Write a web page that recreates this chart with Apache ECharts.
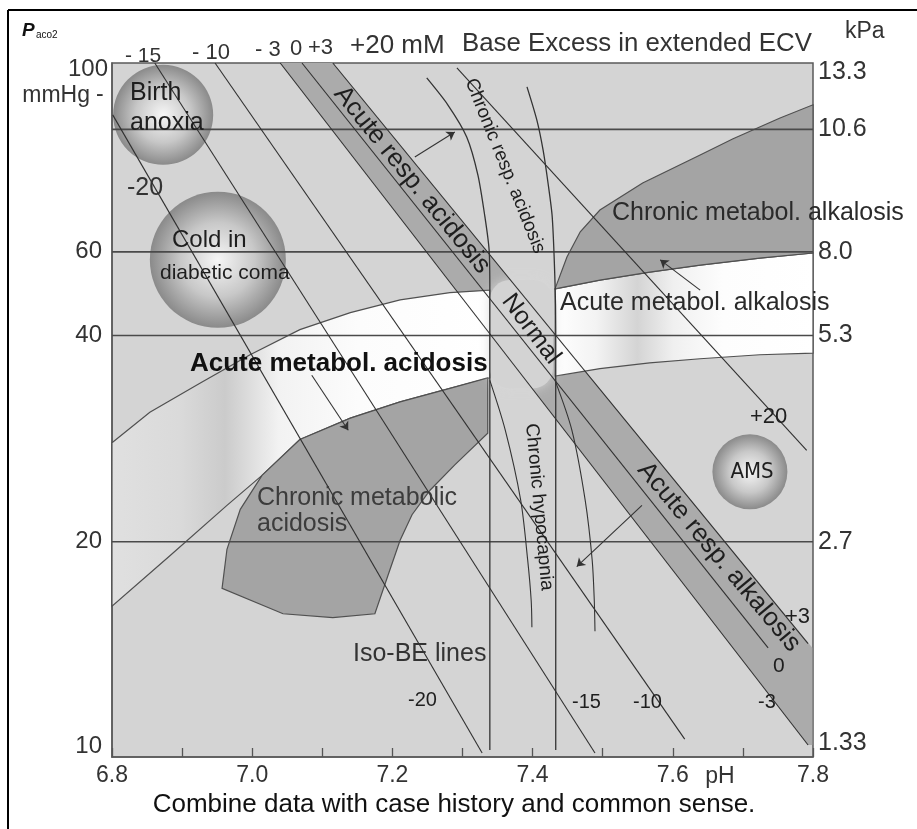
<!DOCTYPE html>
<html><head><meta charset="utf-8">
<script src="https://cdn.jsdelivr.net/npm/echarts@6/dist/echarts.min.js"></script>
<style>html,body{margin:0;padding:0;background:#fff}#c{width:917px;height:829px}</style>
</head><body><div id="c"></div>
<script>
// ---------- data (pH, PaCO2 mmHg) ----------
const phTickLabels = ['6.8', '7.0', '7.2', '7.4', '7.6', '7.8'];
const pco2GridValues = [80, 53, 40, 20];
const mmHgLabelValues = [100, 53, 40, 20, 10];
const mmHgLabels = ['100', '60', '40', '20', '10'];
const kPaLabelValues = [100, 80, 53, 40, 20, 10];
const kPaLabels = ['13.3', '10.6', '8.0', '5.3', '2.7', '1.33'];

const isoBEValues = [-20, -15, -10, -3, 0, 3, 20];
const isoBELines = [
  [[6.801, 84.0], [7.328, 9.83]],
  [[6.861, 100], [7.489, 9.83]],
  [[6.947, 100], [7.617, 10.3]],
  [[7.040, 100], [7.793, 10.1]],
  [[7.071, 100], [7.736, 14.0]],
  [[7.115, 100], [7.793, 14.2]],
  [[7.292, 98.4], [7.791, 27.2]]
];
const respBand = [[7.040, 100], [7.115, 100], [7.799, 14.0], [7.799, 10.1], [7.793, 10.1]];
const normalBox = [[7.339, 48.2], [7.429, 33.5]];
const acuteMetAcidosis = [[6.8, 27.9], [6.854, 30.9], [6.926, 34.1], [6.997, 37.5], [7.068, 40.8], [7.140, 43.2], [7.211, 45.1], [7.282, 46.2], [7.339, 46.6], [7.339, 34.7], [7.282, 33.5], [7.211, 32.0], [7.140, 30.3], [7.068, 28.2], [7.014, 25.0], [6.964, 22.6], [6.883, 19.1], [6.8, 16.1]];
const chronicMetAcidosis = [[7.068, 28.2], [7.140, 30.3], [7.211, 32.0], [7.282, 33.5], [7.336, 34.7], [7.336, 28.8], [7.289, 25.9], [7.254, 23.8], [7.228, 21.9], [7.211, 20.1], [7.194, 17.9], [7.175, 15.7], [7.115, 15.5], [7.044, 15.7], [6.957, 17.1], [6.964, 19.5], [6.983, 22.3], [7.014, 25.0]];
const acuteMetAlkalosis = [[7.432, 46.8], [7.496, 48.2], [7.567, 49.5], [7.639, 50.7], [7.724, 51.9], [7.8, 52.8], [7.8, 37.7], [7.724, 37.5], [7.639, 37.0], [7.567, 36.5], [7.496, 35.8], [7.432, 34.9]];
const chronicMetAlkalosis = [[7.432, 46.8], [7.449, 52.1], [7.468, 56.7], [7.496, 61.0], [7.557, 66.8], [7.639, 73.4], [7.686, 77.5], [7.753, 83.1], [7.8, 86.9], [7.8, 52.8], [7.724, 51.9], [7.639, 50.7], [7.567, 49.5], [7.496, 48.2]];
const chronicRespAcidLeft = [[7.249, 95.1], [7.279, 86.9], [7.306, 78.0], [7.322, 68.6], [7.332, 59.6], [7.338, 53.3], [7.339, 46.6], [7.339, 9.93]];
const chronicRespAcidRight = [[7.392, 92.3], [7.406, 82.6], [7.415, 74.6], [7.422, 66.8], [7.428, 59.6], [7.432, 47.7], [7.433, 40.8], [7.433, 9.93]];
const hypocapniaLeft = [[7.339, 34.4], [7.361, 29.1], [7.383, 23.0], [7.393, 18.8], [7.398, 16.4], [7.399, 15.0]];
const hypocapniaRight = [[7.432, 34.4], [7.456, 29.1], [7.475, 23.0], [7.485, 18.8], [7.488, 16.4], [7.489, 14.8]];
const circleCenters = [[6.873, 84.0], [6.951, 51.6], [7.71, 25.3]];
const arrowTails = [[7.232, 72.9], [7.085, 35.0], [7.556, 22.6], [7.639, 46.6]];
const arrowHeads = [[7.289, 79.3], [7.137, 29.1], [7.463, 18.4], [7.582, 51.6]];

// ---------- chart ----------
const FONT = '"Liberation Sans", Arial, sans-serif';
const NARROW = '"Liberation Sans Narrow", "DejaVu Sans Condensed", Arial, sans-serif';
const chart = echarts.init(document.getElementById('c'), null, { renderer: 'canvas' });

function polySeries(pts, fill, stroke, z) {
  return {
    type: 'custom', z: z, silent: true, animation: false,
    data: pts,
    renderItem: function (params, api) {
      if (params.dataIndex !== 0) return null;
      const p = pts.map(function (d) { return api.coord(d); });
      return { type: 'polygon', shape: { points: p },
        style: { fill: fill, stroke: stroke || null, lineWidth: stroke ? 1.2 : 0 } };
    }
  };
}
function lineSeries(pts, color, width, z, smooth) {
  return { type: 'line', data: pts, symbol: 'none', silent: true, animation: false, z: z,
    smooth: smooth || false, lineStyle: { color: color, width: width } };
}
const sphere = new echarts.graphic.RadialGradient(0.5, 0.5, 0.5, [
  { offset: 0, color: '#f6f6f6' }, { offset: 0.55, color: '#c8c8c8' }, { offset: 1, color: '#8a8a8a' }]);
const circleSizes = [100, 136, 75];

const series = [];
series.push(polySeries(respBand, '#ababab', null, 1));
series.push(polySeries(acuteMetAcidosis, new echarts.graphic.LinearGradient(0, 0, 1, 0, [
  { offset: 0, color: '#e0e0e0' }, { offset: 0.18, color: '#dadada' }, { offset: 0.3, color: '#cbcbcb' },
  { offset: 0.44, color: '#f2f2f2' }, { offset: 0.65, color: '#fcfcfc' }, { offset: 1, color: '#ffffff' }]), '#505050', 2));
series.push(polySeries(acuteMetAlkalosis, new echarts.graphic.LinearGradient(0, 0, 1, 0, [
  { offset: 0, color: '#ffffff' }, { offset: 0.16, color: '#f3f3f3' }, { offset: 0.32, color: '#d4d4d4' },
  { offset: 0.46, color: '#f0f0f0' }, { offset: 0.65, color: '#fdfdfd' }, { offset: 1, color: '#ffffff' }]), '#505050', 2));
series.push(polySeries(chronicMetAcidosis, '#a4a4a4', '#505050', 3));
series.push(polySeries(chronicMetAlkalosis, '#a4a4a4', '#505050', 3));
series.push({
  type: 'custom', z: 4, silent: true, animation: false, data: [normalBox[0]],
  renderItem: function (params, api) {
    const a = api.coord(normalBox[0]), b = api.coord(normalBox[1]);
    return { type: 'rect', shape: { x: a[0], y: a[1], width: b[0] - a[0], height: b[1] - a[1], r: 20 },
      style: { fill: '#d3d3d3', shadowBlur: 12, shadowColor: 'rgba(215,215,215,0.9)' } };
  }
});
series.push({
  type: 'scatter', z: 5, silent: true, animation: false,
  data: circleCenters.map(function (c, i) { return { value: c, symbolSize: circleSizes[i] }; }),
  itemStyle: { color: sphere, opacity: 1 }
});
pco2GridValues.forEach(function (v) { series.push(lineSeries([[6.8, v], [7.8, v]], '#4a4a4a', 1.6, 6)); });
isoBELines.forEach(function (l) { series.push(lineSeries(l, '#303030', 1.1, 6)); });
[chronicRespAcidLeft, chronicRespAcidRight].forEach(function (l) { series.push(lineSeries(l, '#333', 1.3, 6, 0.25)); });
[hypocapniaLeft, hypocapniaRight].forEach(function (l) { series.push(lineSeries(l, '#333', 1.1, 6, 0.3)); });
series.push({
  type: 'lines', coordinateSystem: 'cartesian2d', z: 7, silent: true, animation: false,
  data: arrowTails.map(function (t, i) { return { coords: [t, arrowHeads[i]] }; }),
  symbol: ['none', 'arrow'], symbolSize: [0, 8],
  lineStyle: { color: '#333', width: 1.1, opacity: 1 }
});

chart.setOption({
  animation: false,
  backgroundColor: '#ffffff',
  grid: { left: 112, top: 63, width: 701, height: 694, show: true, backgroundColor: '#d4d4d4', borderColor: '#5a5a5a', borderWidth: 1.5 },
  xAxis: {
    type: 'value', min: 6.8, max: 7.8, interval: 0.1,
    axisLine: { show: true, lineStyle: { color: '#5a5a5a', width: 1.5 } },
    axisTick: { show: true, inside: true, length: 9, lineStyle: { color: '#555', width: 1.3 } },
    splitLine: { show: false },
    axisLabel: {
      margin: 7, fontSize: 23, fontFamily: FONT, color: '#333',
      formatter: function (v) {
        const k = Math.round((v - 6.8) * 10);
        return k % 2 === 0 ? phTickLabels[k / 2] : '';
      }
    }
  },
  yAxis: {
    type: 'log', logBase: 10, min: 9.7, max: 100,
    axisLine: { show: true, lineStyle: { color: '#5a5a5a', width: 1.5 } },
    axisTick: { show: false }, axisLabel: { show: false }, splitLine: { show: false }
  },
  series: series
});

// ---------- text ----------
function yPix(v) { return chart.convertToPixel({ gridIndex: 0 }, [7.3, v])[1]; }
function txt(t, x, y, size, opts) {
  opts = opts || {};
  return {
    type: 'text', x: x, y: y, rotation: (opts.rot || 0) * Math.PI / 180, z: 100, silent: true,
    style: {
      text: t, fill: opts.color || '#1e1e1e',
      font: (opts.style || '') + ' ' + (opts.weight || 'normal') + ' ' + size + 'px ' + (opts.family || FONT),
      textAlign: opts.align || 'left', textVerticalAlign: opts.valign || 'middle'
    }
  };
}
const g = [];
g.push({ type: 'line', shape: { x1: 8, y1: 10, x2: 917, y2: 10 }, style: { stroke: '#000', lineWidth: 2 } });
g.push({ type: 'line', shape: { x1: 8, y1: 10, x2: 8, y2: 829 }, style: { stroke: '#000', lineWidth: 2 } });
// axis value labels
mmHgLabelValues.forEach(function (v, i) {
  let y = yPix(v); if (v === 100) y += 6; if (v === 10) y -= 2;
  g.push(txt(mmHgLabels[i], i === 0 ? 108 : 102, y, 24, { align: 'right', color: '#333' }));
});
kPaLabelValues.forEach(function (v, i) {
  let y = yPix(v); if (v === 100) y += 9; if (v === 10) y -= 5;
  g.push(txt(kPaLabels[i], 818, y, 25, { color: '#333' }));
});
g.push(txt('mmHg', 90, 96, 23, { align: 'right', color: '#333' }));
g.push(txt('-', 96, 95, 23, { color: '#333' }));
g.push(txt('kPa', 845, 32, 23, { color: '#333' }));
g.push(txt('P', 22, 31, 19, { weight: 'bold', style: 'italic', color: '#111' }));
g.push(txt('aco2', 36, 35, 10, { color: '#111' }));
g.push(txt('pH', 720, 777, 23, { align: 'center', color: '#333' }));
// top BE scale
g.push(txt('- 15', 125, 56, 21, { color: '#333' }));
g.push(txt('- 10', 192, 53, 22, { color: '#333' }));
g.push(txt('- 3', 255, 50, 22, { color: '#333' }));
g.push(txt('0', 290, 49, 22, { color: '#333' }));
g.push(txt('+3', 308, 48, 22, { color: '#333' }));
g.push(txt('+20 mM', 350, 46, 26, { color: '#333' }));
g.push(txt('Base Excess in extended ECV', 462, 44, 25.8, { color: '#333' }));
// region labels
g.push(txt('Birth', 130, 93, 25));
g.push(txt('anoxia', 130, 123, 25));
g.push(txt('-20', 127, 188, 25, { color: '#333' }));
g.push(txt('Cold in', 172, 240, 24));
g.push(txt('diabetic coma', 160, 273, 21));
g.push(txt('Acute resp. acidosis', 412, 180, 26, { align: 'center', rot: -51 }));
g.push(txt('Chronic resp. acidosis', 505, 166, 19, { align: 'center', rot: -68 }));
g.push(txt('Chronic metabol. alkalosis', 612, 213, 25, { color: '#2a2a2a' }));
g.push(txt('Acute metabol. alkalosis', 560, 303, 25, { color: '#2a2a2a' }));
g.push(txt('Normal', 531, 329, 25, { align: 'center', rot: -53 }));
g.push(txt('Acute metabol. acidosis', 190, 364, 26, { weight: 'bold', color: '#111' }));
g.push(txt('Chronic metabolic', 257, 498, 25, { color: '#3c3c3c' }));
g.push(txt('acidosis', 257, 524, 25, { color: '#3c3c3c' }));
g.push(txt('Chronic hypocapnia', 539, 507, 19, { align: 'center', rot: -84.6 }));
g.push(txt('+20', 750, 417, 22));
g.push(txt('AMS', 752, 472, 22, { align: 'center', family: NARROW }));
g.push(txt('Acute resp. alkalosis', 719, 557, 26, { align: 'center', rot: -50 }));
g.push(txt('+3', 785, 617, 22));
g.push(txt('0', 773, 666, 21));
g.push(txt('-3', 758, 702, 20));
g.push(txt('-10', 633, 702, 20));
g.push(txt('-15', 572, 702, 20));
g.push(txt('-20', 408, 700, 20));
g.push(txt('Iso-BE lines', 353, 654, 25, { color: '#333' }));
g.push(txt('Combine data with case history and common sense.', 454, 805, 26, { align: 'center', color: '#111' }));
chart.setOption({ graphic: g });
</script>
</body></html>
